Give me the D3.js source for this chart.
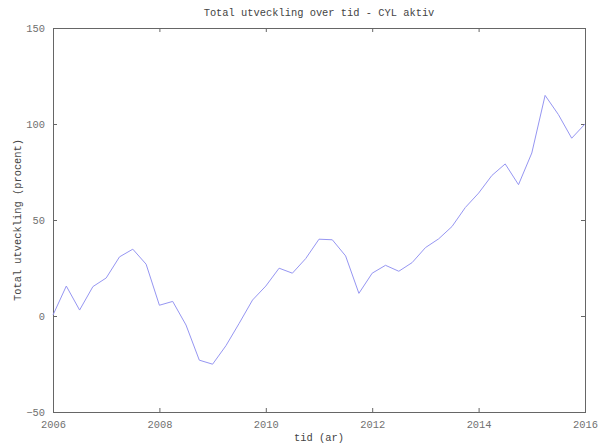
<!DOCTYPE html>
<html>
<head>
<meta charset="utf-8">
<script src="https://cdn.jsdelivr.net/npm/d3@7"></script>
<style>
  body { margin: 0; background: #fff; }
  text { font-family: "Liberation Mono", "DejaVu Sans Mono", monospace; }
</style>
</head>
<body>
<div id="chart"></div>
<script>
// quarterly observations, 2006.00 .. 2016.00
const years = d3.range(41).map(i => 2006 + i * 0.25)
const values = [
  0.5, 15.6, 3.1, 15.3, 19.8, 30.8, 34.8, 27, 5.6, 7.6,
  -4.7, -23, -25.1, -15.5, -3.8, 8.3, 15.6, 24.9, 22.3, 29.9,
  40, 39.7, 31.3, 11.8, 22.3, 26.4, 23.3, 27.8, 35.6, 40.2,
  46.6, 56.5, 64, 73.2, 79.2, 68.4, 84.9, 114.9, 104.9, 92.6,
  100
]
const xTicks = [2006, 2008, 2010, 2012, 2014, 2016]
const yTicks = [-50, 0, 50, 100, 150]

const data = years.map((y, i) => ({ year: y, value: values[i] }))

let dimensions = {
  width: 598,
  height: 447,
  margin: { top: 28, right: 13, bottom: 35, left: 53 },
}
dimensions.boundedWidth = dimensions.width - dimensions.margin.left - dimensions.margin.right
dimensions.boundedHeight = dimensions.height - dimensions.margin.top - dimensions.margin.bottom

const wrapper = d3.select('#chart')
  .append('svg')
  .attr('width', dimensions.width)
  .attr('height', dimensions.height)

const bounds = wrapper.append('g')
  .attr('transform', `translate(${dimensions.margin.left},${dimensions.margin.top})`)

const xScale = d3.scaleLinear()
  .domain([2006, 2016])
  .range([0, dimensions.boundedWidth])

const yScale = d3.scaleLinear()
  .domain([-50, 150])
  .range([dimensions.boundedHeight, 0])

const frameColor = '#666'
const labelColor = '#707070'

// ticks point inwards, on all four sides
const styleAxis = g => {
  g.select('.domain').remove()
  g.selectAll('.tick line').attr('stroke', frameColor)
  g.selectAll('.tick text').attr('fill', labelColor).style('font-size', '10.4px')
}

bounds.append('g')
  .attr('transform', `translate(0,${dimensions.boundedHeight})`)
  .call(d3.axisBottom(xScale).tickValues(xTicks).tickFormat(d3.format('d')).tickSizeInner(-4).tickSizeOuter(0).tickPadding(9))
  .call(styleAxis)

bounds.append('g')
  .call(d3.axisTop(xScale).tickValues(xTicks).tickFormat('').tickSizeInner(-4).tickSizeOuter(0))
  .call(styleAxis)

bounds.append('g')
  .call(d3.axisLeft(yScale).tickValues(yTicks).tickSizeInner(-4).tickSizeOuter(0).tickPadding(8))
  .call(styleAxis)

bounds.append('g')
  .attr('transform', `translate(${dimensions.boundedWidth},0)`)
  .call(d3.axisRight(yScale).tickValues(yTicks).tickFormat('').tickSizeInner(-4).tickSizeOuter(0))
  .call(styleAxis)

// frame
bounds.append('rect')
  .attr('x', 0.5)
  .attr('y', 0.5)
  .attr('width', dimensions.boundedWidth)
  .attr('height', dimensions.boundedHeight)
  .attr('fill', 'none')
  .attr('stroke', frameColor)

const lineGenerator = d3.line()
  .x(d => xScale(d.year))
  .y(d => yScale(d.value))

bounds.append('path')
  .datum(data)
  .attr('d', lineGenerator)
  .attr('fill', 'none')
  .attr('stroke', '#9696f2')
  .attr('stroke-width', 1)

// labels
wrapper.append('text')
  .attr('x', dimensions.margin.left + dimensions.boundedWidth / 2)
  .attr('y', 16)
  .attr('text-anchor', 'middle')
  .attr('fill', '#444')
  .style('font-size', '10.4px')
  .text('Total utveckling over tid - CYL aktiv')

wrapper.append('text')
  .attr('x', dimensions.margin.left + dimensions.boundedWidth / 2)
  .attr('y', 441)
  .attr('text-anchor', 'middle')
  .attr('fill', '#444')
  .style('font-size', '10.4px')
  .text('tid (ar)')

wrapper.append('text')
  .attr('transform', `translate(21,${dimensions.margin.top + dimensions.boundedHeight / 2}) rotate(-90)`)
  .attr('text-anchor', 'middle')
  .attr('fill', '#444')
  .style('font-size', '10.4px')
  .text('Total utveckling (procent)')
</script>
</body>
</html>
